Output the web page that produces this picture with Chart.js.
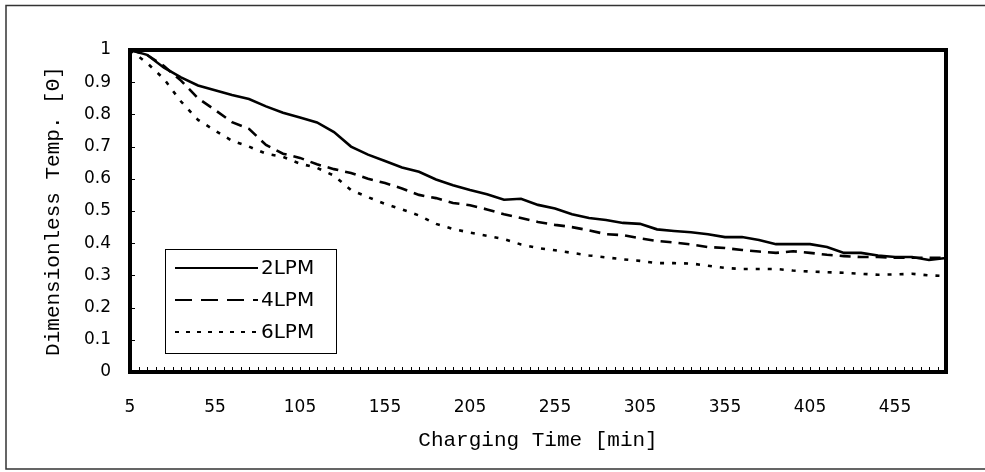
<!DOCTYPE html>
<html><head><meta charset="utf-8">
<script src="https://cdn.jsdelivr.net/npm/chart.js@4/dist/chart.umd.min.js"></script>
<style>html,body{margin:0;padding:0;background:#fff;overflow:hidden;} canvas{display:block;}</style>
</head><body>
<canvas id="c" width="985" height="472"></canvas>
<script>
// ---- data ----
const times = [5,15,25,35,45,55,65,75,85,95,105,115,125,135,145,155,165,175,185,195,205,215,225,235,245,255,265,275,285,295,305,315,325,335,345,355,365,375,385,395,405,415,425,435,445,455,465,475,485];
const twoLPM = [1.00,0.985,0.945,0.915,0.89,0.875,0.86,0.848,0.825,0.805,0.79,0.775,0.745,0.70,0.675,0.655,0.635,0.622,0.598,0.58,0.565,0.552,0.535,0.538,0.519,0.508,0.49,0.478,0.472,0.463,0.46,0.443,0.438,0.434,0.428,0.419,0.419,0.41,0.397,0.397,0.397,0.388,0.37,0.37,0.362,0.357,0.357,0.348,0.354];
const fourLPM = [1.00,0.985,0.95,0.905,0.85,0.814,0.776,0.755,0.705,0.678,0.665,0.645,0.63,0.618,0.60,0.587,0.57,0.55,0.54,0.525,0.518,0.505,0.49,0.478,0.466,0.457,0.45,0.44,0.428,0.425,0.415,0.407,0.402,0.396,0.388,0.385,0.379,0.374,0.37,0.375,0.37,0.364,0.36,0.357,0.357,0.355,0.355,0.355,0.354];
const sixLPM = [1.00,0.96,0.91,0.84,0.783,0.75,0.718,0.70,0.678,0.668,0.647,0.634,0.61,0.565,0.543,0.522,0.505,0.486,0.46,0.444,0.433,0.423,0.413,0.396,0.385,0.378,0.37,0.362,0.356,0.35,0.345,0.338,0.338,0.337,0.33,0.323,0.32,0.32,0.32,0.315,0.312,0.31,0.308,0.305,0.302,0.303,0.305,0.30,0.298];
const seriesNames = ['2LPM','4LPM','6LPM'];
const xTickValues = [5,55,105,155,205,255,305,355,405,455];
const yTickValues = [0,0.1,0.2,0.3,0.4,0.5,0.6,0.7,0.8,0.9,1];
const xTitle = 'Charging Time [min]';
const yTitle = 'Dimensionless Temp. [\u0398]';

const pts = arr => arr.map((v,i)=>({x: times[i], y: v}));
const dashes = [[], [11,7], [4,8]];
const legendDashes = [[], [17,9], [4,7]];

const decor = {
  id: 'decor',
  beforeDraw(chart){
    const ctx = chart.ctx;
    ctx.save();
    ctx.fillStyle = '#fff';
    ctx.fillRect(0,0,chart.width,chart.height);
    ctx.strokeStyle = '#333';
    ctx.lineWidth = 1.5;
    ctx.beginPath();
    ctx.moveTo(chart.width, 5.5);
    ctx.lineTo(6, 5.5);
    ctx.lineTo(6, 469);
    ctx.lineTo(chart.width, 469);
    ctx.stroke();
    ctx.restore();
  },
  afterDatasetsDraw(chart){
    const ctx = chart.ctx, ca = chart.chartArea;
    const xs = chart.scales.x, ys = chart.scales.y;
    ctx.save();
    ctx.strokeStyle = '#000';
    ctx.lineWidth = 1;
    for (let t = xs.min; t <= xs.max; t += 5) {
      const px = Math.round(xs.getPixelForValue(t)) + 0.5;
      ctx.beginPath(); ctx.moveTo(px, ca.bottom); ctx.lineTo(px, ca.bottom - 5); ctx.stroke();
    }
    yTickValues.forEach(v => {
      const py = Math.round(ys.getPixelForValue(v)) + 0.5;
      ctx.beginPath(); ctx.moveTo(ca.left, py); ctx.lineTo(ca.left + 5, py); ctx.stroke();
    });
    ctx.lineWidth = 4;
    ctx.strokeRect(ca.left, ca.top, ca.right - ca.left, ca.bottom - ca.top);
    const lx = ca.left + 35, ly = ca.top + 199, lw = 171, lh = 104;
    ctx.lineWidth = 1;
    ctx.fillStyle = '#fff';
    ctx.fillRect(lx, ly, lw, lh);
    ctx.strokeRect(lx + 0.5, ly + 0.5, lw, lh);
    ctx.font = '20px "DejaVu Sans"';
    ctx.fillStyle = '#000';
    ctx.textBaseline = 'middle';
    ctx.textAlign = 'left';
    chart.data.datasets.forEach((ds, i) => {
      const cy = ly + 19 + i * 32;
      ctx.lineWidth = 2.2;
      ctx.setLineDash(legendDashes[i]);
      ctx.beginPath(); ctx.moveTo(lx + 10, cy); ctx.lineTo(lx + 93, cy); ctx.stroke();
      ctx.setLineDash([]);
      ctx.fillText(ds.label, lx + 96, cy + 1);
    });
    ctx.restore();
  }
};

new Chart(document.getElementById('c'), {
  type: 'line',
  data: {
    datasets: [twoLPM, fourLPM, sixLPM].map((arr, i) => ({
      label: seriesNames[i],
      data: pts(arr),
      borderColor: '#000',
      borderWidth: 2.6,
      borderDash: dashes[i],
      pointRadius: 0,
      tension: 0,
      fill: false
    }))
  },
  options: {
    responsive: false,
    animation: false,
    devicePixelRatio: 1,
    layout: { padding: { left: 0, top: 50, right: 39, bottom: 0 } },
    plugins: { legend: { display: false }, tooltip: { enabled: false } },
    scales: {
      x: {
        type: 'linear', min: 5, max: 485,
        afterBuildTicks: s => { s.ticks = xTickValues.map(v => ({ value: v })); },
        afterFit: s => { s.height = 100; },
        grid: { display: false, drawTicks: false },
        border: { display: false },
        ticks: { color: '#000', font: { family: 'DejaVu Sans', size: 17 }, padding: 25, maxRotation: 0, autoSkip: false },
        title: { display: true, text: xTitle, color: '#000', font: { family: 'Liberation Mono', size: 21 }, padding: { top: 0, bottom: 19 } }
      },
      y: {
        min: 0, max: 1,
        afterBuildTicks: s => { s.ticks = yTickValues.map(v => ({ value: v })); },
        afterFit: s => { s.width = 130; },
        grid: { display: false, drawTicks: false },
        border: { display: false },
        ticks: { color: '#000', font: { family: 'DejaVu Sans', size: 17 }, padding: 19, callback: v => String(v) },
        title: { display: true, text: yTitle, color: '#000', font: { family: 'Liberation Mono', size: 21 }, padding: { top: 41, bottom: 0 } }
      }
    }
  },
  plugins: [decor]
});
</script>
</body></html>
